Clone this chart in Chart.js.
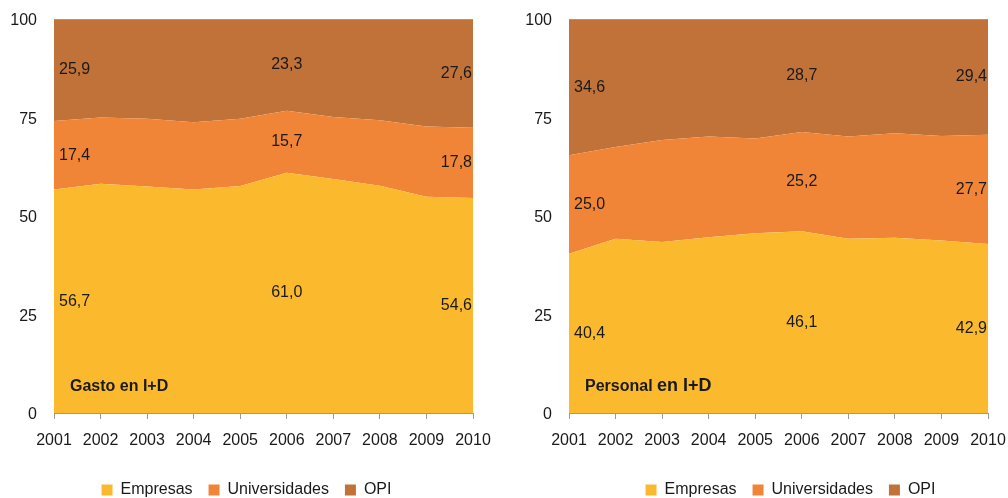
<!DOCTYPE html>
<html><head><meta charset="utf-8">
<script src="https://cdn.jsdelivr.net/npm/chart.js@4.4.1/dist/chart.umd.min.js"></script>
<style>
html,body{margin:0;padding:0;background:#fff;overflow:hidden;width:1008px;height:498px;}
#c1{position:absolute;left:0;top:0;}
#c2{position:absolute;left:515px;top:0;}
</style></head><body>
<canvas id="c1" width="493" height="508"></canvas>
<canvas id="c2" width="493" height="508"></canvas>
<script>
const years = ['2001','2002','2003','2004','2005','2006','2007','2008','2009','2010'];
const seriesNames = ['Empresas','Universidades','OPI'];
const yTicks = [0, 25, 50, 75, 100];
const labelIndices = [0, 5, 9];

// Gasto en I+D (%)
const gastoEmpresas      = [56.7, 58.2, 57.5, 56.7, 57.6, 61.0, 59.4, 57.7, 54.9, 54.6];
const gastoUniversidades = [17.4, 16.8, 17.2, 17.1, 17.1, 15.7, 15.7, 16.6, 17.8, 17.8];
const gastoOPI           = [25.9, 25.0, 25.3, 26.2, 25.3, 23.3, 24.9, 25.7, 27.3, 27.6];

// Personal en I+D (%)
const personalEmpresas      = [40.4, 44.2, 43.4, 44.6, 45.6, 46.1, 44.2, 44.5, 43.8, 42.9];
const personalUniversidades = [25.0, 23.3, 25.9, 25.6, 24.1, 25.2, 26.0, 26.5, 26.5, 27.7];
const personalOPI           = [34.6, 32.5, 30.7, 29.8, 30.3, 28.7, 29.8, 29.0, 29.7, 29.4];

const colors = ['#FBB92E', '#F08537', '#C17239'];
const FONT = "'Liberation Sans', Arial, sans-serif";
const TEXT = '#1a1a1a';

function makeChart(id, series, titleParts, legendShift) {
  const labelsPlugin = {
    id: 'valueLabels',
    afterLayout(chart) {
      if (chart.legend) { chart.legend.left += legendShift; chart.legend.right += legendShift; }
    },
    afterDatasetsDraw(chart) {
      const ctx = chart.ctx, xs = chart.scales.x, ys = chart.scales.y;
      ctx.save();
      ctx.font = '16px ' + FONT;
      ctx.fillStyle = TEXT;
      ctx.textBaseline = 'middle';
      labelIndices.forEach(idx => {
        let cum = 0;
        chart.data.datasets.forEach(ds => {
          const v = ds.data[idx];
          const mid = cum + v / 2;
          cum += v;
          const px = xs.getPixelForValue(idx);
          const py = ys.getPixelForValue(mid);
          let align = 'center', dx = 0;
          if (idx === 0) { align = 'left'; dx = 5; }
          else if (idx === years.length - 1) { align = 'right'; dx = -1; }
          ctx.textAlign = align;
          ctx.fillText(v.toFixed(1).replace('.', ','), px + dx, py);
        });
      });
      // panel title
      const a = chart.chartArea;
      let tx = a.left + 16;
      ctx.textAlign = 'left';
      ctx.textBaseline = 'alphabetic';
      titleParts.forEach(p => {
        ctx.font = 'bold ' + p[1] + 'px ' + FONT;
        ctx.fillText(p[0], tx, a.bottom - 22);
        tx += ctx.measureText(p[0]).width;
      });
      ctx.restore();
    }
  };

  return new Chart(document.getElementById(id), {
    type: 'line',
    data: {
      labels: years,
      datasets: series.map((d, i) => ({
        label: seriesNames[i],
        data: d,
        backgroundColor: colors[i],
        borderColor: 'rgba(0,0,0,0)',
        borderWidth: 0,
        pointRadius: 0,
        tension: 0,
        fill: i === 0 ? 'origin' : '-1'
      }))
    },
    options: {
      responsive: false,
      devicePixelRatio: 1,
      animation: false,
      layout: { padding: { top: 19, right: 20, left: 0, bottom: 0 } },
      plugins: {
        tooltip: { enabled: false },
        legend: {
          position: 'bottom',
          labels: {
            boxWidth: 11, boxHeight: 11, padding: 16,
            color: TEXT,
            font: { size: 16, family: FONT }
          }
        }
      },
      scales: {
        x: {
          offset: false,
          grid: { display: true, drawOnChartArea: false, tickLength: 6, color: '#9a9a9a' },
          border: { display: true, color: '#9a9a9a', width: 1 },
          ticks: { color: TEXT, font: { size: 16, family: FONT }, padding: 12, maxRotation: 0, autoSkip: false },
          afterFit: s => { s.height = 53; s.paddingLeft = 0; s.paddingRight = 0; }
        },
        y: {
          stacked: true,
          min: 0, max: 100,
          afterBuildTicks: s => { s.ticks = yTicks.map(v => ({ value: v })); },
          grid: {
            z: 1, drawTicks: false,
            color: c => (c.tick && c.tick.value === 100) ? '#9a9a9a' : 'rgba(0,0,0,0)'
          },
          border: { display: false },
          ticks: { color: TEXT, font: { size: 16, family: FONT }, padding: 17, labelOffset: 2 },
          afterFit: s => { s.width = 54; s.paddingTop = 0; s.paddingBottom = 0; }
        }
      }
    },
    plugins: [labelsPlugin]
  });
}

makeChart('c1', [gastoEmpresas, gastoUniversidades, gastoOPI], [['Gasto en I+D', 16]], 10);
makeChart('c2', [personalEmpresas, personalUniversidades, personalOPI], [['Personal ', 16], ['en I+D', 18]], 39);
</script>
</body></html>
